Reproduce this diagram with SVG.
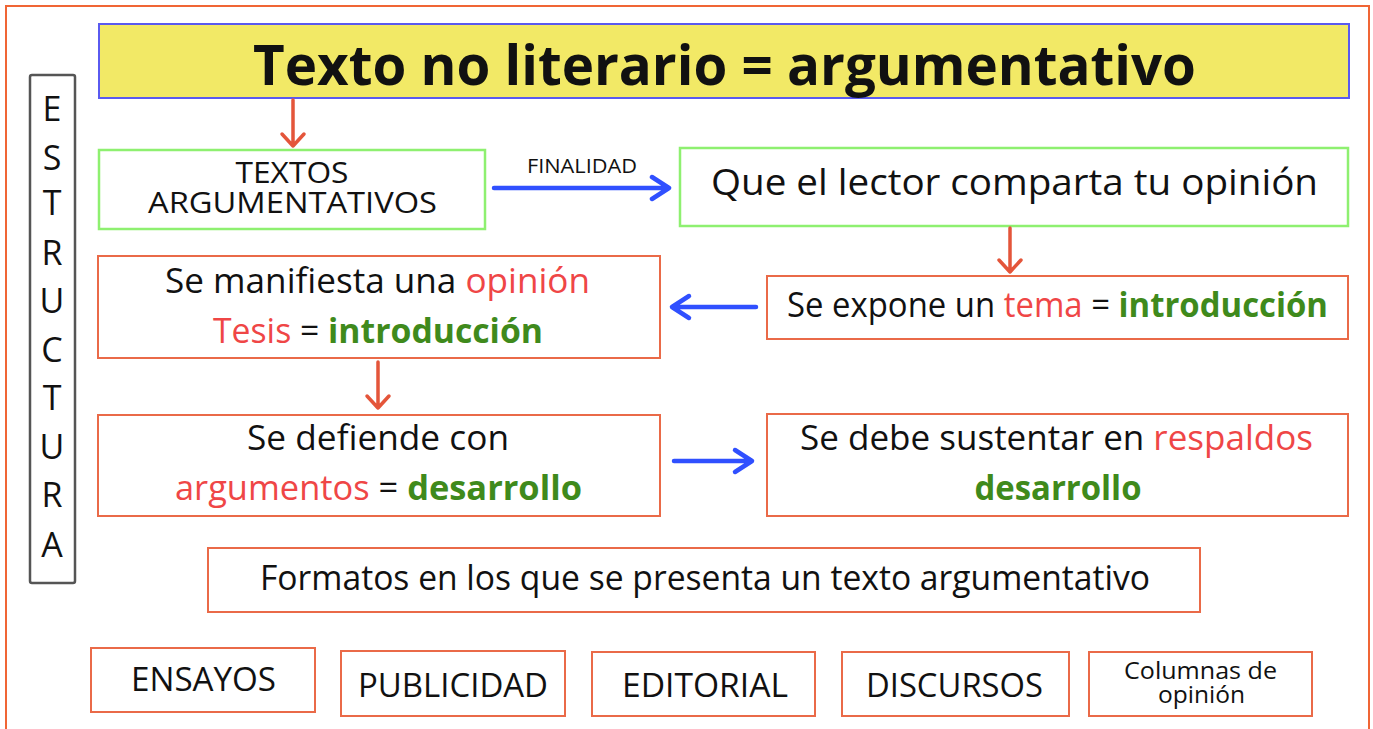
<svg xmlns="http://www.w3.org/2000/svg" width="1373" height="729" viewBox="0 0 1373 729">
<style>
text{font-family:"Open Sans",Lato,"Liberation Sans",sans-serif;fill:#111;text-anchor:middle}
.box{fill:#fff;stroke:#ea6a48;stroke-width:2}
.gbox{fill:#fff;stroke:#8ef070;stroke-width:2.5}
.r{fill:#ef4646}
.g{fill:#3f8a1c;font-weight:bold}
.ra{fill:none;stroke:#e4553a;stroke-width:3.5;stroke-linecap:round;stroke-linejoin:round}
.ba{fill:none;stroke:#3050ff;stroke-width:4.5;stroke-linecap:round;stroke-linejoin:round}
.t{font-size:34px}
.u{font-size:33px}
</style>
<rect x="0" y="0" width="1373" height="729" fill="#fff"/>
<rect x="6" y="6" width="1363" height="760" fill="none" stroke="#f06535" stroke-width="2"/>

<g id="title">
<rect x="99" y="24" width="1250" height="74" fill="#f2e966" stroke="#5a5af0" stroke-width="2"/>
<text x="724.5" y="85" font-size="55" font-weight="bold" textLength="943" lengthAdjust="spacingAndGlyphs">Texto no literario = argumentativo</text>
</g>

<g id="estructura">
<rect x="30" y="75" width="45" height="508" rx="2" fill="#fff" stroke="#555" stroke-width="2.5"/>
<g font-size="34">
<text x="52" y="121">E</text>
<text x="52" y="170">S</text>
<text x="52" y="215">T</text>
<text x="52" y="265">R</text>
<text x="52" y="313">U</text>
<text x="52" y="362">C</text>
<text x="52" y="410">T</text>
<text x="52" y="459">U</text>
<text x="52" y="507">R</text>
<text x="52" y="557">A</text>
</g>
</g>

<g id="textos">
<rect class="gbox" x="99" y="150" width="386" height="79"/>
<text x="292" y="183" font-size="30" textLength="113" lengthAdjust="spacingAndGlyphs">TEXTOS</text>
<text x="292.5" y="213" font-size="30" textLength="289" lengthAdjust="spacingAndGlyphs">ARGUMENTATIVOS</text>
</g>

<g id="finalidad">
<rect class="gbox" x="680" y="148" width="668" height="78"/>
<text x="1014.5" y="195" font-size="37" textLength="607" lengthAdjust="spacingAndGlyphs">Que el lector comparta tu opinión</text>
</g>

<g id="manifiesta">
<rect class="box" x="98" y="256" width="562" height="102"/>
<text x="377.5" y="293" class="t" textLength="425" lengthAdjust="spacingAndGlyphs">Se manifiesta una <tspan class="r">opinión</tspan></text>
<text x="378" y="343" class="t" textLength="330" lengthAdjust="spacingAndGlyphs"><tspan class="r">Tesis</tspan> = <tspan class="g">introducción</tspan></text>
</g>

<g id="expone">
<rect class="box" x="767" y="276" width="581" height="63"/>
<text x="1057.5" y="317" class="t" textLength="541" lengthAdjust="spacingAndGlyphs">Se expone un <tspan class="r">tema</tspan> = <tspan class="g">introducción</tspan></text>
</g>

<g id="defiende">
<rect class="box" x="98" y="415" width="562" height="101"/>
<text x="378" y="450" class="t" textLength="262" lengthAdjust="spacingAndGlyphs">Se defiende con</text>
<text x="378.5" y="500" class="t" textLength="407" lengthAdjust="spacingAndGlyphs"><tspan class="r">argumentos</tspan> = <tspan class="g">desarrollo</tspan></text>
</g>

<g id="sustentar">
<rect class="box" x="767" y="414" width="581" height="102"/>
<text x="1056.5" y="450" class="t" textLength="513" lengthAdjust="spacingAndGlyphs">Se debe sustentar en <tspan class="r">respaldos</tspan></text>
<text x="1058" y="500" class="t" textLength="167" lengthAdjust="spacingAndGlyphs"><tspan class="g">desarrollo</tspan></text>
</g>

<g id="formatos">
<rect class="box" x="208" y="548" width="992" height="64"/>
<text x="705" y="590" class="t" textLength="890" lengthAdjust="spacingAndGlyphs">Formatos en los que se presenta un texto argumentativo</text>
</g>

<g id="ensayos">
<rect class="box" x="91" y="648" width="224" height="64"/>
<text x="203.5" y="691" class="u" textLength="145" lengthAdjust="spacingAndGlyphs">ENSAYOS</text>
</g>
<g id="publicidad">
<rect class="box" x="341" y="651" width="224" height="65"/>
<text x="453" y="697" class="u" textLength="190" lengthAdjust="spacingAndGlyphs">PUBLICIDAD</text>
</g>
<g id="editorial">
<rect class="box" x="592" y="652" width="223" height="64"/>
<text x="705" y="697" class="u" textLength="166" lengthAdjust="spacingAndGlyphs">EDITORIAL</text>
</g>
<g id="discursos">
<rect class="box" x="842" y="652" width="227" height="64"/>
<text x="954.5" y="697" class="u" textLength="177" lengthAdjust="spacingAndGlyphs">DISCURSOS</text>
</g>
<g id="columnas">
<rect class="box" x="1089" y="652" width="223" height="64"/>
<text x="1200.5" y="679" font-size="23" textLength="153" lengthAdjust="spacingAndGlyphs">Columnas de</text>
<text x="1201.5" y="703" font-size="23" textLength="87" lengthAdjust="spacingAndGlyphs">opinión</text>
</g>

<g id="connectors">
<path class="ra" d="M293 100 V146 M282 134 L293 146 L304 134"/>
<path class="ba" d="M494 188 H669 M652 177 L669 188 L652 199"/>
<text x="582" y="173" font-size="20" textLength="110" lengthAdjust="spacingAndGlyphs">FINALIDAD</text>
<path class="ra" d="M1010 228 V272 M999 260 L1010 272 L1021 260"/>
<path class="ba" d="M756 307 H672 M689 296 L672 307 L689 318"/>
<path class="ra" d="M378 362 V408 M367 396 L378 408 L389 396"/>
<path class="ba" d="M674 461 H752 M735 450 L752 461 L735 472"/>
</g>
</svg>
